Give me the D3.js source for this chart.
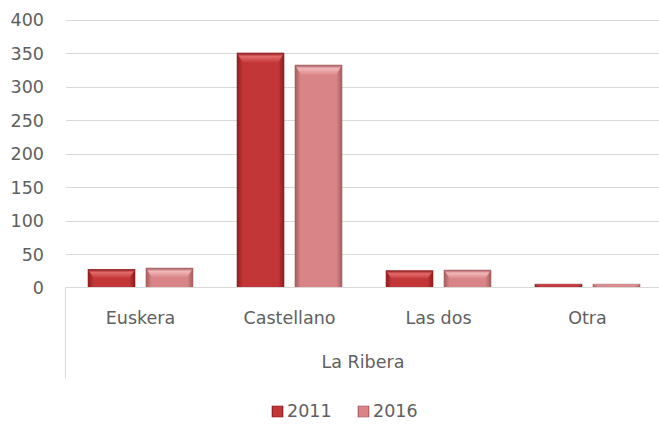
<!DOCTYPE html>
<html>
<head>
<meta charset="utf-8">
<script src="https://cdn.jsdelivr.net/npm/d3@7"></script>
<style>
  body { margin: 0; background: #fff; }
  text { font-family: "DejaVu Sans", sans-serif; fill: #606060; }
</style>
</head>
<body>
<script>
var width = 659, height = 424;

// data
var categories = ["Euskera", "Castellano", "Las dos", "Otra"];
var series = ["2011", "2016"];
var values2011 = [27, 350, 25, 5];
var values2016 = [29, 332, 26, 5];
var yTicks = [0, 50, 100, 150, 200, 250, 300, 350, 400];
var groupLabel = "La Ribera";

var colors = {
  "2011": { main: "#c23638", light: "#e46a6a", dark: "#8e1c1e" },
  "2016": { main: "#d98587", light: "#f2b7b8", dark: "#a45c5e" }
};

var svg = d3.select("body").append("svg")
    .attr("width", width)
    .attr("height", height);

var defs = svg.append("defs");
series.forEach(function (s) {
  var g = defs.append("linearGradient").attr("id", "grad" + s)
      .attr("x1", 0).attr("x2", 1).attr("y1", 0).attr("y2", 0);
  g.append("stop").attr("offset", "0%").attr("stop-color", colors[s].dark);
  g.append("stop").attr("offset", "12%").attr("stop-color", colors[s].main);
  g.append("stop").attr("offset", "88%").attr("stop-color", colors[s].main);
  g.append("stop").attr("offset", "100%").attr("stop-color", colors[s].dark);
  var t = defs.append("linearGradient").attr("id", "top" + s)
      .attr("x1", 0).attr("x2", 0).attr("y1", 0).attr("y2", 1);
  t.append("stop").attr("offset", "0%").attr("stop-color", colors[s].dark);
  t.append("stop").attr("offset", "35%").attr("stop-color", colors[s].light);
  t.append("stop").attr("offset", "100%").attr("stop-color", colors[s].main);
});

var x0 = d3.scaleBand().domain(categories).range([66, 662]).paddingInner(0).paddingOuter(0);
var x1 = d3.scaleBand().domain(series).range([0, x0.bandwidth()]).paddingInner(0.19).paddingOuter(0.38);
var y = d3.scaleLinear().domain([0, 400]).range([287.5, 19.5]);

// gridlines
svg.append("g").selectAll("line")
  .data(yTicks.filter(function (d) { return d > 0; }))
  .enter().append("line")
  .attr("x1", 66).attr("x2", width)
  .attr("y1", function (d) { return Math.round(y(d)) + 0.5; })
  .attr("y2", function (d) { return Math.round(y(d)) + 0.5; })
  .attr("stroke", "#d9d9d9").attr("stroke-width", 1);

// y labels
svg.append("g").selectAll("text")
  .data(yTicks).enter().append("text")
  .attr("x", 44)
  .attr("y", function (d) { return y(d) + 6.5; })
  .attr("text-anchor", "end")
  .style("font-size", "17.5px")
  .text(function (d) { return d; });

var data = categories.map(function (c, i) {
  return { cat: c, vals: [{ s: "2011", v: values2011[i] }, { s: "2016", v: values2016[i] }] };
});

var groups = svg.append("g").selectAll("g")
  .data(data).enter().append("g")
  .attr("transform", function (d) { return "translate(" + x0(d.cat) + ",0)"; });

var bars = groups.selectAll("g.bar")
  .data(function (d) { return d.vals; })
  .enter().append("g").attr("class", "bar");

bars.append("rect")
  .attr("x", function (d) { return x1(d.s); })
  .attr("y", function (d) { return y(d.v); })
  .attr("width", x1.bandwidth())
  .attr("height", function (d) { return y(0) - y(d.v); })
  .attr("fill", function (d) { return "url(#grad" + d.s + ")"; })
  .attr("stroke", function (d) { return colors[d.s].dark; })
  .attr("stroke-width", 0.6);

// top bevel
bars.append("path")
  .attr("d", function (d) {
    var xl = x1(d.s), w = x1.bandwidth(), yt = y(d.v);
    var h = Math.min(10, (y(0) - yt) * 0.5), b = Math.min(6, h);
    return "M" + xl + "," + yt + "H" + (xl + w) + "L" + (xl + w - b) + "," + (yt + h) +
      "H" + (xl + b) + "Z";
  })
  .attr("fill", function (d) { return "url(#top" + d.s + ")"; });

// category axis
svg.append("line").attr("x1", 66).attr("x2", width)
  .attr("y1", 287.5).attr("y2", 287.5).attr("stroke", "#d9d9d9");
svg.append("line").attr("x1", 65.5).attr("x2", 65.5)
  .attr("y1", 287.5).attr("y2", 378).attr("stroke", "#d9d9d9");

svg.append("g").selectAll("text")
  .data(categories).enter().append("text")
  .attr("x", function (d) { return x0(d) + x0.bandwidth() / 2; })
  .attr("y", 324)
  .attr("text-anchor", "middle")
  .style("font-size", "17.5px")
  .text(function (d) { return d; });

svg.append("text")
  .attr("x", 363).attr("y", 368)
  .attr("text-anchor", "middle")
  .style("font-size", "17.5px")
  .text(groupLabel);

// legend
var legend = svg.append("g").selectAll("g")
  .data(series).enter().append("g")
  .attr("transform", function (d, i) { return "translate(" + (272 + i * 86) + ",406)"; });
legend.append("rect")
  .attr("width", 11).attr("height", 11)
  .attr("fill", function (d) { return "url(#grad" + d + ")"; })
  .attr("stroke", function (d) { return colors[d].dark; })
  .attr("stroke-width", 0.6);
legend.append("text")
  .attr("x", 15).attr("y", 11)
  .style("font-size", "17.5px")
  .text(function (d) { return d; });
</script>
</body>
</html>
